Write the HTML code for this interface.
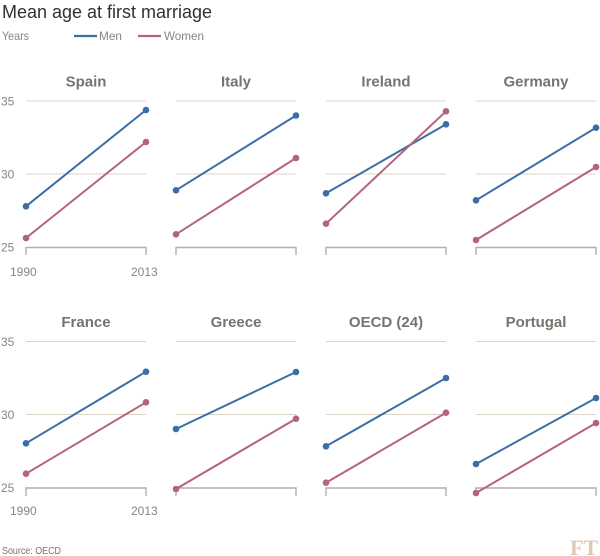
<!DOCTYPE html>
<html><head><meta charset="utf-8"><style>
html,body{margin:0;padding:0;background:#fff;}
svg{display:block;}
text{font-family:"Liberation Sans",sans-serif;}
</style></head><body>
<svg width="600" height="556" viewBox="0 0 600 556" xmlns="http://www.w3.org/2000/svg">
<rect width="600" height="556" fill="#fff"/>
<text x="2" y="18" font-size="18.5" fill="#33302e" textLength="210" lengthAdjust="spacingAndGlyphs">Mean age at first marriage</text>
<text x="2" y="40" font-size="12" fill="#8a8580" textLength="27" lengthAdjust="spacingAndGlyphs">Years</text>
<line x1="74" y1="36" x2="97" y2="36" stroke="#3b6ea6" stroke-width="2.2"/>
<text x="99" y="40" font-size="12" fill="#8a8580" textLength="23" lengthAdjust="spacingAndGlyphs">Men</text>
<line x1="138" y1="36" x2="161" y2="36" stroke="#b4637c" stroke-width="2.2"/>
<text x="164" y="40" font-size="12" fill="#8a8580" textLength="40" lengthAdjust="spacingAndGlyphs">Women</text>

<g id="row1">
<g font-size="12" fill="#8a8580">
<text x="1" y="105.5">35</text><text x="1" y="178.5">30</text><text x="1" y="251.5">25</text>
<text x="10" y="276">1990</text><text x="131" y="276">2013</text>
<text x="1" y="346">35</text><text x="1" y="419">30</text><text x="1" y="492">25</text>
<text x="10" y="515">1990</text><text x="131" y="515">2013</text>
</g>
<g font-size="15" font-weight="bold" fill="#77736d" text-anchor="middle">
<text x="86" y="86.5">Spain</text><text x="236" y="86.5">Italy</text><text x="386" y="86.5">Ireland</text><text x="536" y="86.5">Germany</text>
<text x="86" y="327">France</text><text x="236" y="327">Greece</text><text x="386" y="327">OECD (24)</text><text x="536" y="327">Portugal</text>
</g>
<g stroke="#ddd3c4" stroke-width="1">
<line x1="26" y1="101" x2="146" y2="101"/><line x1="26" y1="174" x2="146" y2="174"/>
<line x1="176" y1="101" x2="296" y2="101"/><line x1="176" y1="174" x2="296" y2="174"/>
<line x1="326" y1="101" x2="446" y2="101"/><line x1="326" y1="174" x2="446" y2="174"/>
<line x1="476" y1="101" x2="596" y2="101"/><line x1="476" y1="174" x2="596" y2="174"/>
<line x1="26" y1="341.5" x2="146" y2="341.5"/><line x1="26" y1="414.5" x2="146" y2="414.5"/>
<line x1="176" y1="341.5" x2="296" y2="341.5"/><line x1="176" y1="414.5" x2="296" y2="414.5"/>
<line x1="326" y1="341.5" x2="446" y2="341.5"/><line x1="326" y1="414.5" x2="446" y2="414.5"/>
<line x1="476" y1="341.5" x2="596" y2="341.5"/><line x1="476" y1="414.5" x2="596" y2="414.5"/>
</g>
<g stroke="#b3aea6" stroke-width="1.4" fill="none">
<path d="M26,255V247.5H146V255"/><path d="M176,255V247.5H296V255"/><path d="M326,255V247.5H446V255"/><path d="M476,255V247.5H596V255"/>
<path d="M26,496V488H146V496"/><path d="M176,496V488H296V496"/><path d="M326,496V488H446V496"/><path d="M476,496V488H596V496"/>
</g>
<g stroke-width="2" stroke-linecap="round">
<line x1="26" y1="238" x2="146" y2="142" stroke="#b4637c"/>
<line x1="26" y1="206.3" x2="146" y2="110" stroke="#3b6ea6"/>
<line x1="176" y1="234.3" x2="296" y2="158" stroke="#b4637c"/>
<line x1="176" y1="190.3" x2="296" y2="115.5" stroke="#3b6ea6"/>
<line x1="326" y1="193.3" x2="446" y2="124.3" stroke="#3b6ea6"/>
<line x1="326" y1="223.7" x2="446" y2="111.3" stroke="#b4637c"/>
<line x1="476" y1="240" x2="596" y2="167" stroke="#b4637c"/>
<line x1="476" y1="200.3" x2="596" y2="127.7" stroke="#3b6ea6"/>
<line x1="26" y1="473.7" x2="146" y2="402.3" stroke="#b4637c"/>
<line x1="26" y1="443.3" x2="146" y2="371.7" stroke="#3b6ea6"/>
<line x1="176" y1="489" x2="296" y2="418.7" stroke="#b4637c"/>
<line x1="176" y1="429" x2="296" y2="372" stroke="#3b6ea6"/>
<line x1="326" y1="482.7" x2="446" y2="412.7" stroke="#b4637c"/>
<line x1="326" y1="446.3" x2="446" y2="378" stroke="#3b6ea6"/>
<line x1="476" y1="493" x2="596" y2="423" stroke="#b4637c"/>
<line x1="476" y1="464" x2="596" y2="398" stroke="#3b6ea6"/>
</g>
<g fill="#b4637c">
<circle cx="26" cy="238" r="3.3"/><circle cx="146" cy="142" r="3.3"/>
<circle cx="176" cy="234.3" r="3.3"/><circle cx="296" cy="158" r="3.3"/>
<circle cx="326" cy="223.7" r="3.3"/><circle cx="446" cy="111.3" r="3.3"/>
<circle cx="476" cy="240" r="3.3"/><circle cx="596" cy="167" r="3.3"/>
<circle cx="26" cy="473.7" r="3.3"/><circle cx="146" cy="402.3" r="3.3"/>
<circle cx="176" cy="489" r="3.3"/><circle cx="296" cy="418.7" r="3.3"/>
<circle cx="326" cy="482.7" r="3.3"/><circle cx="446" cy="412.7" r="3.3"/>
<circle cx="476" cy="493" r="3.3"/><circle cx="596" cy="423" r="3.3"/>
</g>
<g fill="#3b6ea6">
<circle cx="26" cy="206.3" r="3.3"/><circle cx="146" cy="110" r="3.3"/>
<circle cx="176" cy="190.3" r="3.3"/><circle cx="296" cy="115.5" r="3.3"/>
<circle cx="326" cy="193.3" r="3.3"/><circle cx="446" cy="124.3" r="3.3"/>
<circle cx="476" cy="200.3" r="3.3"/><circle cx="596" cy="127.7" r="3.3"/>
<circle cx="26" cy="443.3" r="3.3"/><circle cx="146" cy="371.7" r="3.3"/>
<circle cx="176" cy="429" r="3.3"/><circle cx="296" cy="372" r="3.3"/>
<circle cx="326" cy="446.3" r="3.3"/><circle cx="446" cy="378" r="3.3"/>
<circle cx="476" cy="464" r="3.3"/><circle cx="596" cy="398" r="3.3"/>
</g>
</g>
<text x="2" y="554" font-size="10.5" fill="#74716c" textLength="59" lengthAdjust="spacingAndGlyphs">Source: OECD</text>
<text x="570" y="555" style="font-family:'Liberation Serif',serif;font-weight:bold;font-size:22px" fill="#dcc9b8" textLength="28" lengthAdjust="spacingAndGlyphs">FT</text>
</svg>
</body></html>
